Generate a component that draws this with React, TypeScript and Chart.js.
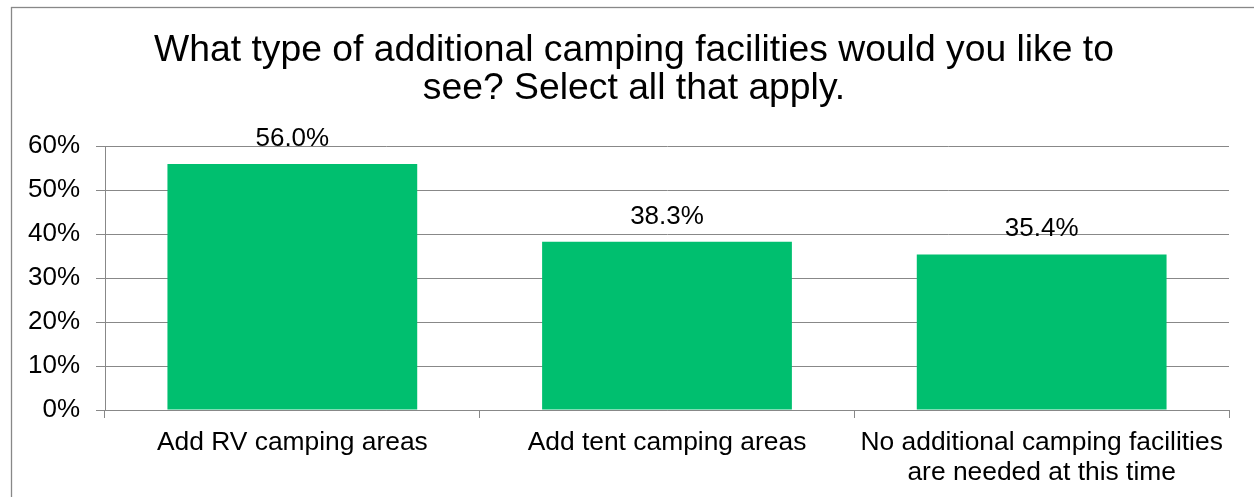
import React, { useEffect, useRef } from "react";
import { Chart, registerables } from "chart.js";

Chart.register(...registerables);

const titleLines: string[] = [
  "What type of additional camping facilities would you like to",
  "see? Select all that apply.",
];
const categories: string[][] = [
  ["Add RV camping areas"],
  ["Add tent camping areas"],
  ["No additional camping facilities", "are needed at this time"],
];
const values: number[] = [56.0, 38.3, 35.4];
const yTickValues: number[] = [0, 10, 20, 30, 40, 50, 60];

const FONT = "'Liberation Sans', Arial, sans-serif";
const GREEN = "#00BF6F";
const GREY = "#888888";

const framePlugin = {
  id: "frame",
  beforeDraw(chart: any) {
    const ctx = chart.ctx;
    ctx.save();
    ctx.fillStyle = "#ffffff";
    ctx.fillRect(0, 0, chart.width, chart.height);
    ctx.strokeStyle = GREY;
    ctx.lineWidth = 1.3;
    ctx.strokeRect(11.5, 7.5, chart.width + 20, chart.height + 20);
    ctx.restore();
  },
};

const labelPlugin = {
  id: "valueLabels",
  afterDatasetsDraw(chart: any) {
    const ctx = chart.ctx;
    const meta = chart.getDatasetMeta(0);
    ctx.save();
    ctx.font = `26px ${FONT}`;
    ctx.fillStyle = "#000000";
    ctx.textAlign = "center";
    ctx.textBaseline = "alphabetic";
    meta.data.forEach((bar: any, i: number) => {
      ctx.fillText(values[i].toFixed(1) + "%", bar.x, bar.y - 18);
    });
    ctx.restore();
  },
};

export default function App() {
  const ref = useRef<HTMLCanvasElement | null>(null);

  useEffect(() => {
    if (!ref.current) return;
    const chart = new Chart(ref.current, {
      type: "bar",
      data: {
        labels: categories,
        datasets: [
          {
            data: values,
            backgroundColor: GREEN,
            borderWidth: 0,
            barPercentage: 2 / 3,
            categoryPercentage: 1,
          },
        ],
      },
      options: {
        responsive: false,
        animation: false,
        devicePixelRatio: 1,
        layout: { padding: { left: 14, right: 0, top: 0, bottom: 0 } },
        plugins: {
          legend: { display: false },
          tooltip: { enabled: false },
          title: {
            display: true,
            text: titleLines,
            color: "#000000",
            font: { family: FONT, size: 37.3, weight: "normal", lineHeight: 1.0 },
            padding: { top: 32.5, bottom: 39.2 },
          },
        },
        scales: {
          x: {
            type: "category",
            position: "bottom",
            grid: {
              display: true,
              drawOnChartArea: false,
              drawTicks: true,
              tickLength: 8,
              color: GREY,
              offset: true,
            },
            border: { display: true, color: GREY, width: 1 },
            ticks: {
              color: "#000000",
              font: { family: FONT, size: 26.4, lineHeight: 1.14 },
              padding: 10,
              maxRotation: 0,
              autoSkip: false,
            },
            afterFit: (s: any) => {
              s.height = 87;
            },
          },
          y: {
            type: "linear",
            position: "left",
            min: 0,
            max: 60,
            afterBuildTicks: (s: any) => {
              s.ticks = yTickValues.map((v) => ({ value: v }));
            },
            grid: {
              display: true,
              drawOnChartArea: true,
              drawTicks: true,
              tickLength: 9,
              color: GREY,
            },
            border: { display: true, color: GREY, width: 1 },
            ticks: {
              color: "#000000",
              font: { family: FONT, size: 26 },
              padding: 16,
              callback: (v: any) => `${v}%`,
            },
            afterFit: (s: any) => {
              s.width = 91;
            },
          },
          yRight: {
            type: "linear",
            position: "right",
            display: true,
            grid: { display: false, drawTicks: false },
            border: { display: false },
            ticks: { display: false },
            afterFit: (s: any) => {
              s.width = 25;
            },
          },
        },
      },
      plugins: [framePlugin, labelPlugin],
    });
    return () => chart.destroy();
  }, []);

  return (
    <div style={{ position: "absolute", left: 0, top: 0, width: 1254, height: 497, overflow: "hidden" }}>
      <canvas ref={ref} width={1254} height={497} style={{ display: "block" }} />
    </div>
  );
}
